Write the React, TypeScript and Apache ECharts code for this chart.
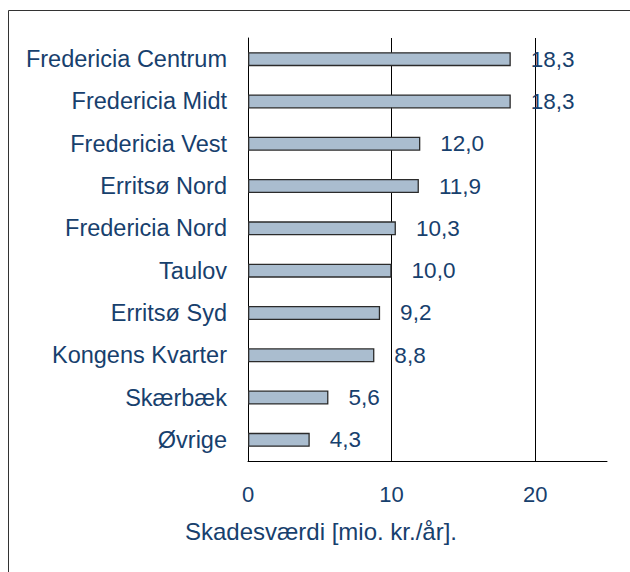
import React, { useEffect, useRef } from "react";
import * as echarts from "echarts";

const categories = [
  "Fredericia Centrum",
  "Fredericia Midt",
  "Fredericia Vest",
  "Erritsø Nord",
  "Fredericia Nord",
  "Taulov",
  "Erritsø Syd",
  "Kongens Kvarter",
  "Skærbæk",
  "Øvrige",
];
const values = [18.3, 18.3, 12.0, 11.9, 10.3, 10.0, 9.2, 8.8, 5.6, 4.3];
const xTicks = [0, 10, 20];
const xMax = 25;
const axisTitle = "Skadesværdi [mio. kr./år].";

const TEXT = "#17406d";
const FONT = "'Liberation Sans', Arial, sans-serif";

export default function App() {
  const ref = useRef<HTMLDivElement>(null);
  useEffect(() => {
    if (!ref.current) return;
    const chart = echarts.init(ref.current, undefined, { renderer: "svg" });
    chart.setOption({
      animation: false,
      backgroundColor: "#ffffff",
      textStyle: { fontFamily: FONT },
      grid: { left: 248, right: 23, top: 38, bottom: 111, containLabel: false },
      xAxis: {
        type: "value",
        min: 0,
        max: xMax,
        interval: 10,
        axisLine: { show: true, lineStyle: { color: "#000", width: 1 } },
        axisTick: { show: false },
        axisLabel: {
          color: TEXT,
          fontSize: 22,
          fontFamily: FONT,
          margin: 22,
          showMaxLabel: false,
          formatter: (v: number) => (xTicks.includes(v) ? String(v) : ""),
        },
        splitLine: {
          show: true,
          showMinLine: false,
          showMaxLine: false,
          lineStyle: { color: "#000", width: 1 },
        },
      },
      yAxis: {
        type: "category",
        data: categories,
        inverse: true,
        axisLine: { show: true, lineStyle: { color: "#000", width: 1 } },
        axisTick: { show: false },
        axisLabel: { color: TEXT, fontSize: 23.5, fontFamily: FONT, margin: 21 },
      },
      series: [
        {
          type: "bar",
          data: values,
          barWidth: 14,
          itemStyle: { color: "#aabdcf", borderColor: "#2b2b2b", borderWidth: 1.3 },
          label: {
            show: true,
            position: "right",
            distance: 20,
            color: TEXT,
            fontSize: 22.5,
            fontFamily: FONT,
            formatter: (p: any) => Number(p.value).toFixed(1).replace(".", ","),
          },
        },
      ],
      graphic: [
        {
          type: "rect",
          shape: { x: 8.5, y: 10.5, width: 700, height: 700 },
          style: { fill: "none", stroke: "#333", lineWidth: 1 },
          silent: true,
        },
        {
          type: "text",
          x: 321,
          y: 531,
          style: {
            text: axisTitle,
            fill: TEXT,
            font: `24px ${FONT}`,
            align: "center",
            verticalAlign: "middle",
          },
        },
      ],
    });
    return () => chart.dispose();
  }, []);
  return (
    <div
      ref={ref}
      style={{ position: "absolute", left: 0, top: 0, width: 630, height: 572 }}
    />
  );
}
